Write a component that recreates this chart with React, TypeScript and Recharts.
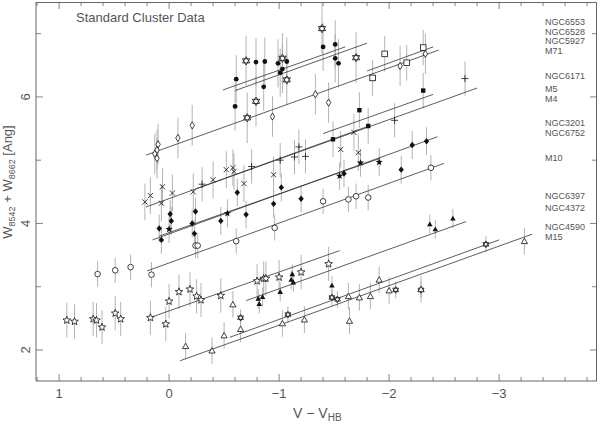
import React from 'react';
import { ScatterChart, Scatter, XAxis, YAxis, ErrorBar } from 'recharts';

// values (x = V - V_HB, y = W8542 + W8662)
const ngc6553X = [-0.61, -0.79, -0.87, -0.86, -0.6, -0.99, -1.03, -1.01, -1.07, -1.4, -1.51, -1.51, -1.54];
const ngc6553Y = [6.28, 6.55, 6.56, 6.16, 5.85, 6.53, 6.44, 6.38, 6.56, 6.79, 6.83, 6.61, 6.53];
const ngc6528X = [-0.7, -0.79, -0.71, -1.03, -1.07, -1.39, -1.7];
const ngc6528Y = [6.57, 5.93, 5.67, 6.61, 6.27, 7.08, 6.62];
const ngc5927X = [-1.96, -1.85, -2.16, -2.31];
const ngc5927Y = [6.68, 6.3, 6.54, 6.78];
const m71X = [0.1, 0.11, 0.13, 0.11, -0.08, -0.21, -0.94, -1.33, -1.45, -2.1, -2.33];
const m71Y = [5.25, 5.16, 5.1, 5.03, 5.35, 5.55, 5.69, 6.04, 5.91, 6.49, 6.68];
const ngc6171X = [-1.49, -1.73, -1.81, -2.31];
const ngc6171Y = [5.33, 5.79, 5.54, 6.1];
const m5X = [0.22, 0.17, 0.06, 0.07, -0.03, -0.22, -0.4, -0.52, -0.58, -0.59, -0.68, -0.95, -1.56, -1.72, -1.68];
const m5Y = [4.34, 4.44, 4.58, 4.32, 4.48, 4.5, 4.69, 4.85, 4.88, 4.82, 4.63, 4.77, 5.17, 5.12, 5.44];
const m4X = [-0.3, -0.75, -1.01, -1.14, -1.18, -1.24, -2.05, -2.69];
const m4Y = [4.62, 4.9, 5.0, 5.05, 5.21, 5.06, 5.63, 6.29];
const ngc3201X = [0.09, 0.07, -0.01, -0.02, -0.21, -0.23, -0.24, -0.47, -0.62, -0.7, -0.95, -1.02, -1.2, -1.59, -2.11, -2.21, -2.34];
const ngc3201Y = [3.92, 3.74, 4.15, 4.04, 4.0, 3.84, 4.19, 4.04, 4.49, 4.14, 4.31, 4.57, 4.39, 4.79, 4.85, 5.24, 5.3];
const ngc6752X = [0.0, -0.53, -1.55, -1.74, -1.91];
const ngc6752Y = [3.91, 4.16, 4.75, 4.96, 4.97];
const m10X = [0.65, 0.49, 0.35, 0.16, -0.24, -0.26, -0.61, -0.96, -1.4, -1.63, -1.7, -1.81, -2.38];
const m10Y = [3.2, 3.26, 3.31, 3.19, 3.65, 3.65, 3.72, 3.93, 4.35, 4.38, 4.43, 4.41, 4.88];
const ngc6397X = [0.93, 0.86, 0.69, 0.66, 0.61, 0.49, 0.44, 0.17, 0.03, 0.0, -0.09, -0.19, -0.25, -0.29, -0.47, -0.8, -0.86, -0.88, -1.0, -1.2, -1.45];
const ngc6397Y = [2.47, 2.45, 2.49, 2.47, 2.36, 2.58, 2.49, 2.51, 2.41, 2.77, 2.92, 2.96, 2.85, 2.79, 2.86, 3.09, 3.13, 3.13, 3.15, 3.23, 3.36];
const ngc4372X = [-0.81, -0.85, -0.82, -1.01, -1.12, -1.11, -1.13, -1.48, -2.37, -2.42, -2.58];
const ngc4372Y = [2.81, 2.84, 2.73, 2.92, 3.2, 3.11, 3.07, 3.02, 3.99, 3.91, 4.08];
const ngc4590X = [-0.65, -1.08, -1.48, -1.53, -2.06, -2.29, -2.88];
const ngc4590Y = [2.51, 2.56, 2.83, 2.8, 2.95, 2.95, 3.67];
const m15X = [-0.15, -0.39, -0.5, -0.58, -0.65, -1.03, -1.23, -1.63, -1.64, -1.73, -1.83, -1.91, -2.0, -2.29, -3.23];
const m15Y = [2.06, 1.99, 2.23, 2.72, 2.33, 2.42, 2.48, 2.85, 2.46, 2.83, 2.85, 3.11, 2.94, 2.96, 3.72];

// fitted lines: [start, end]
const fitX = {
  ngc6553: [-0.49, -1.6], ngc6528: [-0.6, -1.8], ngc5927: [-1.8, -2.4], m71: [0.21, -2.45],
  ngc6171: [-1.4, -2.4], m5: [0.21, -1.8], m4: [-0.25, -2.8], ngc3201: [0.15, -2.44],
  ngc6752: [0.09, -1.92], m10: [0.2, -2.5], ngc6397: [0.16, -1.55], ngc4372: [-0.7, -2.7],
  ngc4590: [-0.55, -3.0], m15: [-0.1, -3.3],
};
const fitY = {
  ngc6553: [6.11, 6.79], ngc6528: [6.1, 6.85], ngc5927: [6.41, 6.79], m71: [5.08, 6.74],
  ngc6171: [5.42, 6.04], m5: [4.26, 5.53], m4: [4.55, 6.14], ngc3201: [3.74, 5.37],
  ngc6752: [3.8, 5.03], m10: [3.25, 4.95], ngc6397: [2.52, 3.57], ngc4372: [2.78, 4.03],
  ngc4590: [2.2, 3.74], m15: [1.83, 3.83],
};

const clusterNames = ['NGC6553', 'NGC6528', 'NGC5927', 'M71', 'NGC6171', 'M5', 'M4', 'NGC3201', 'NGC6752', 'M10', 'NGC6397', 'NGC4372', 'NGC4590', 'M15'];
const nameY = [25, 34.5, 44, 53.5, 79, 92, 101.5, 126, 135.5, 161, 199, 211, 230, 240];

const X_MIN = -3.89;
const X_MAX = 1.21;
const Y_MIN = 1.51;
const Y_MAX = 7.5;
const xTicks = Array.from({ length: 26 }, (_, i) => Math.round((1.2 - 0.2 * i) * 10) / 10);
const yTicks = [2, 3, 4, 5, 6, 7];
const yLabelled = [2, 4, 6];

// chart geometry
const W = 600;
const H = 425;
const M = { top: 2, right: 3, left: 36, bottom: 44 };
const PL = M.left;
const PR = W - M.right;
const PT = M.top;
const PB = H - M.bottom;
const frameX = (v: number) => PL + ((X_MAX - v) / (X_MAX - X_MIN)) * (PR - PL);
const frameY = (v: number) => PT + ((Y_MAX - v) / (Y_MAX - Y_MIN)) * (PB - PT);

const FONT = '"Liberation Sans", Arial, sans-serif';
const INK = '#111';
const AXIS = '#666';
const TXT = '#555';

const pts = (xs: number[], ys: number[], e: number) => xs.map((x, i) => ({ x, y: ys[i], e }));
const seg = (xs: number[], ys: number[]) => xs.map((x, i) => ({ x, y: ys[i] }));

const groups = [
  { kind: 'dot', data: pts(ngc6553X, ngc6553Y, 0.38) },
  { kind: 'hex', data: pts(ngc6528X, ngc6528Y, 0.4) },
  { kind: 'square', data: pts(ngc5927X, ngc5927Y, 0.28) },
  { kind: 'diamond', data: pts(m71X, m71Y, 0.32) },
  { kind: 'fsquare', data: pts(ngc6171X, ngc6171Y, 0.28) },
  { kind: 'cross', data: pts(m5X, m5Y, 0.29) },
  { kind: 'plus', data: pts(m4X, m4Y, 0.27) },
  { kind: 'fdiamond', data: pts(ngc3201X, ngc3201Y, 0.22) },
  { kind: 'fstar', data: pts(ngc6752X, ngc6752Y, 0.22) },
  { kind: 'circle', data: pts(m10X, m10Y, 0.2) },
  { kind: 'star', data: pts(ngc6397X, ngc6397Y, 0.27) },
  { kind: 'ftri', data: pts(ngc4372X, ngc4372Y, 0.15) },
  { kind: 'hexs', data: pts(ngc4590X, ngc4590Y, 0.13) },
  { kind: 'tri', data: pts(m15X, m15Y, 0.21) },
];

const starPts = (cx: number, cy: number, R: number, r: number, n: number) => {
  const out: string[] = [];
  for (let i = 0; i < n * 2; i++) {
    const rad = i % 2 === 0 ? R : r;
    const a = -Math.PI / 2 + (i * Math.PI) / n;
    out.push(`${cx + rad * Math.cos(a)},${cy + rad * Math.sin(a)}`);
  }
  return out.join(' ');
};
const triPts = (cx: number, cy: number, R: number, up: boolean) => {
  const s = up ? -1 : 1;
  return [0, 1, 2]
    .map((k) => {
      const a = s * Math.PI / 2 + (k * 2 * Math.PI) / 3;
      return `${cx + R * Math.cos(a)},${cy + R * Math.sin(a)}`;
    })
    .join(' ');
};

const Marker = ({ kind, cx, cy }: { kind: string; cx: number; cy: number }) => {
  if (cx == null || cy == null) return <g />;
  const sw = 0.8;
  switch (kind) {
    case 'dot':
      return <circle cx={cx} cy={cy} r={2.4} fill={INK} />;
    case 'circle':
      return <circle cx={cx} cy={cy} r={2.8} fill="#fff" stroke={INK} strokeWidth={sw} />;
    case 'square':
      return <rect x={cx - 2.8} y={cy - 2.8} width={5.6} height={5.6} fill="#fff" stroke={INK} strokeWidth={sw} />;
    case 'fsquare':
      return <rect x={cx - 2.2} y={cy - 2.2} width={4.4} height={4.4} fill={INK} />;
    case 'diamond':
      return <polygon points={`${cx},${cy - 3.6} ${cx + 2.2},${cy} ${cx},${cy + 3.6} ${cx - 2.2},${cy}`} fill="#fff" stroke={INK} strokeWidth={sw} />;
    case 'fdiamond':
      return <polygon points={`${cx},${cy - 3.2} ${cx + 2.7},${cy} ${cx},${cy + 3.2} ${cx - 2.7},${cy}`} fill={INK} />;
    case 'plus':
      return (
        <g stroke={INK} strokeWidth={sw}>
          <line x1={cx - 3.5} x2={cx + 3.5} y1={cy} y2={cy} />
          <line x1={cx} x2={cx} y1={cy - 3.5} y2={cy + 3.5} />
        </g>
      );
    case 'cross':
      return (
        <g stroke={INK} strokeWidth={sw}>
          <line x1={cx - 2.6} x2={cx + 2.6} y1={cy - 2.6} y2={cy + 2.6} />
          <line x1={cx - 2.6} x2={cx + 2.6} y1={cy + 2.6} y2={cy - 2.6} />
        </g>
      );
    case 'star':
      return <polygon points={starPts(cx, cy, 4, 1.7, 5)} fill="#fff" stroke={INK} strokeWidth={sw} />;
    case 'fstar':
      return <polygon points={starPts(cx, cy, 3.8, 1.6, 5)} fill={INK} />;
    case 'hex':
    case 'hexs': {
      const R = kind === 'hex' ? 4.2 : 3.4;
      return (
        <g fill="none" stroke={INK} strokeWidth={sw}>
          <polygon points={starPts(cx, cy, R, R / Math.sqrt(3), 6)} fill="#fff" stroke="none" />
          <polygon points={triPts(cx, cy, R, true)} />
          <polygon points={triPts(cx, cy, R, false)} />
        </g>
      );
    }
    case 'tri':
      return <polygon points={triPts(cx, cy + 0.6, 3.6, true)} fill="#fff" stroke={INK} strokeWidth={sw} />;
    case 'ftri':
      return <polygon points={triPts(cx, cy + 0.5, 3.2, true)} fill={INK} />;
    default:
      return <g />;
  }
};

const fmt = (v: number) => (v < 0 ? `\u2212${Math.abs(v)}` : `${v}`);
const isInt = (v: number) => Math.abs(v - Math.round(v)) < 1e-6;

const BottomTick = (props: any) => {
  const { x, y, payload } = props;
  const v = payload.value;
  const major = isInt(v);
  return (
    <g>
      <line x1={x} x2={x} y1={y} y2={y - (major ? 7 : 4)} stroke={AXIS} strokeWidth={0.8} />
      {major && (
        <text x={x} y={y + 17} textAnchor="middle" fontSize={13} fontFamily={FONT} fill={TXT}>
          {fmt(v)}
        </text>
      )}
    </g>
  );
};
const LeftTick = (props: any) => {
  const { x, y, payload } = props;
  const v = payload.value;
  const lab = yLabelled.includes(v);
  return (
    <g>
      <line x1={x} x2={x + (lab ? 7 : 5)} y1={y} y2={y} stroke={AXIS} strokeWidth={0.8} />
      {lab && (
        <text transform={`translate(${x - 6},${y}) rotate(-90)`} textAnchor="middle" fontSize={13} fontFamily={FONT} fill={TXT}>
          {v}
        </text>
      )}
    </g>
  );
};

const noShape = () => <g />;
const lineKeys = Object.keys(fitX) as (keyof typeof fitX)[];

export default function App() {
  return (
    <div style={{ position: 'relative', width: W, height: H, background: '#fff' }}>
      <style>{'body{margin:0}'}</style>
      <ScatterChart width={W} height={H} margin={{ top: M.top, right: M.right, bottom: 0, left: 0 }}>
        <XAxis
          dataKey="x"
          type="number"
          domain={[X_MIN, X_MAX]}
          reversed
          allowDataOverflow
          ticks={xTicks}
          interval={0}
          height={M.bottom}
          tickSize={0}
          tickMargin={0}
          tickLine={false}
          tick={BottomTick}
          stroke={AXIS}
        />
        <YAxis
          dataKey="y"
          type="number"
          domain={[Y_MIN, Y_MAX]}
          allowDataOverflow
          ticks={yTicks}
          interval={0}
          width={M.left}
          tickSize={0}
          tickMargin={0}
          tickLine={false}
          tick={LeftTick}
          stroke={AXIS}
        />
        {lineKeys.map((k) => (
          <Scatter
            key={`fit-${k}`}
            data={seg(fitX[k], fitY[k])}
            line={{ stroke: '#333', strokeWidth: 0.8 }}
            shape={noShape}
            isAnimationActive={false}
          />
        ))}
        {groups.map((g, i) => (
          <Scatter
            key={`grp-${i}`}
            data={g.data}
            shape={(p: any) => <Marker kind={g.kind} cx={p.cx} cy={p.cy} />}
            isAnimationActive={false}
          >
            <ErrorBar dataKey="e" direction="y" width={0} stroke="#aaa" strokeWidth={0.9} />
          </Scatter>
        ))}
      </ScatterChart>
      <svg width={W} height={H} style={{ position: 'absolute', left: 0, top: 0, pointerEvents: 'none' }}>
        {/* top and right sides of the frame, with inward ticks */}
        <polyline
          points={`${PL},${PT + 0.5} ${PR - 0.5},${PT + 0.5} ${PR - 0.5},${PB}`}
          fill="none"
          stroke={AXIS}
          strokeWidth={1}
        />
        {xTicks.map((t) => (
          <line key={`tt-${t}`} x1={frameX(t)} x2={frameX(t)} y1={PT} y2={PT + (isInt(t) ? 7 : 4)} stroke={AXIS} strokeWidth={0.8} />
        ))}
        {yTicks.map((t) => (
          <line key={`rt-${t}`} x1={PR} x2={PR - (yLabelled.includes(t) ? 7 : 5)} y1={frameY(t)} y2={frameY(t)} stroke={AXIS} strokeWidth={0.8} />
        ))}
        <text x={76} y={22} fontSize={13} fontFamily={FONT} fill={TXT}>
          Standard Cluster Data
        </text>
        {clusterNames.map((n, i) => (
          <text key={n} x={545} y={nameY[i]} fontSize={9} fontFamily={FONT} fill={TXT}>
            {n}
          </text>
        ))}
        <text x={293} y={418} fontSize={14} fontFamily={FONT} fill={TXT}>
          V {'\u2212'} V<tspan fontSize={10} dy={3}>HB</tspan>
        </text>
        <text transform="translate(12,182) rotate(-90)" textAnchor="middle" fontSize={13} fontFamily={FONT} fill={TXT}>
          W<tspan fontSize={9} dy={3}>8542</tspan>
          <tspan dy={-3}> + W</tspan>
          <tspan fontSize={9} dy={3}>8662</tspan>
          <tspan dy={-3}> [Ang]</tspan>
        </text>
      </svg>
    </div>
  );
}
